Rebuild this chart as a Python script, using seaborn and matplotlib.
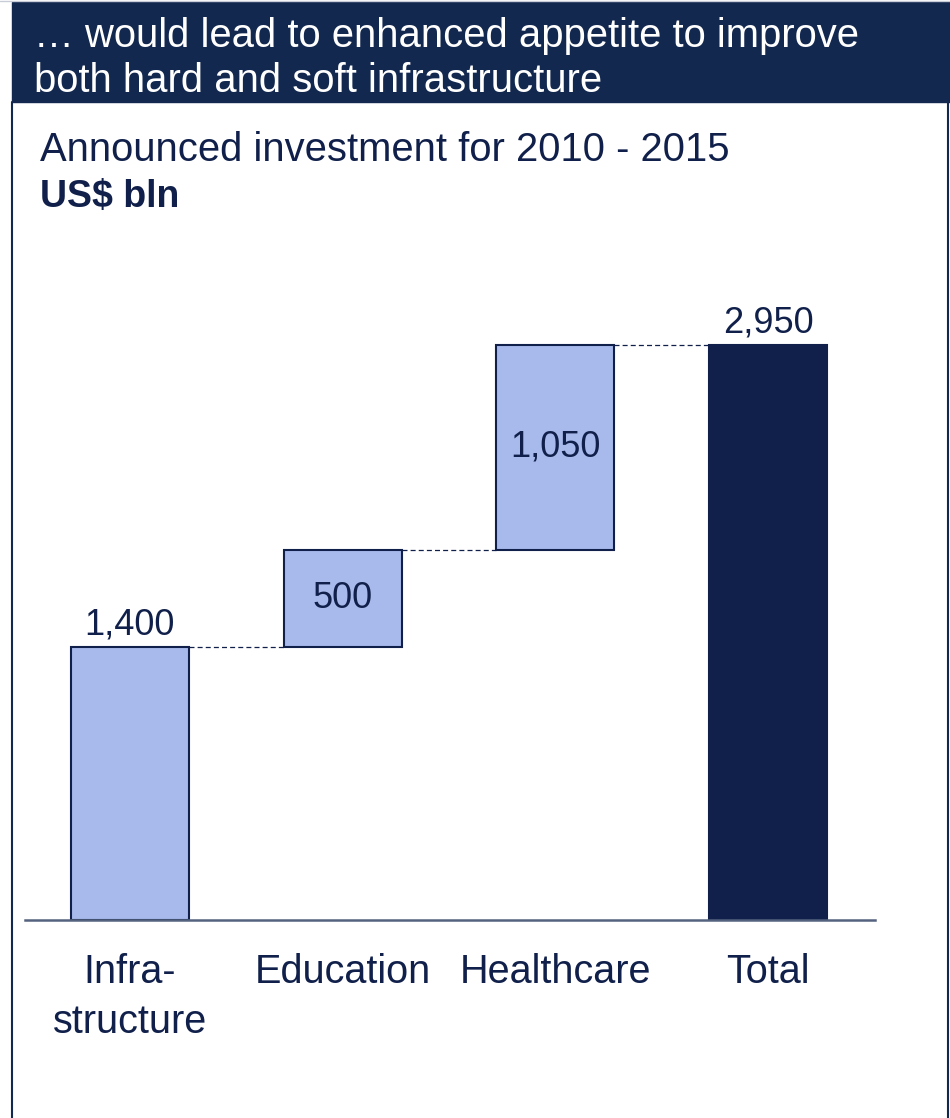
import matplotlib
matplotlib.use("Agg")
import matplotlib.pyplot as plt
from matplotlib.patches import Rectangle
from matplotlib.lines import Line2D
import seaborn as sns

# Announced investment 2010-2015, US$ bln
categories = ["Infra-\nstructure", "Education", "Healthcare", "Total"]
values = [1400, 500, 1050, 2950]
is_total = [False, False, False, True]
value_labels = ["1,400", "500", "1,050", "2,950"]

NAVY = "#10204A"
HEADER = "#13284F"
LIGHT = "#A8B9EB"
FONT = "Liberation Sans"

sns.set_theme(style="white")
plt.rcParams["font.family"] = [FONT, "DejaVu Sans"]

W, H = 950, 1118
fig = plt.figure(figsize=(W / 100, H / 100), dpi=100)


def fx(px):
    return px / W


def fy(py):
    return 1 - py / H


# floating bottoms for the waterfall steps
bottoms = []
running = 0
for v, tot in zip(values, is_total):
    if tot:
        bottoms.append(0)
    else:
        bottoms.append(running)
        running += v
tops = [b + v for b, v in zip(bottoms, values)]

ax = fig.add_axes([fx(25), fy(920), fx(875) - fx(25), fy(250) - fy(920)])
colors = [NAVY if t else LIGHT for t in is_total]
sns.barplot(x=categories, y=values, hue=categories, palette=colors, legend=False,
            width=0.555, edgecolor=NAVY, linewidth=1.5, ax=ax, saturation=1)
for patch, b in zip(ax.patches, bottoms):
    patch.set_y(b)

ax.set_xlim(-0.493, 3.502)
ax.set_ylim(0, 3437)

# dashed connectors between consecutive bar tops
hw = 0.555 / 2
for i in range(len(values) - 1):
    level = tops[i]
    ax.plot([i + hw, i + 1 - hw], [level, level], color=NAVY, lw=0.9,
            dashes=(4, 2.5), zorder=1)

# value labels
for i, (lab, b, v, tot) in enumerate(zip(value_labels, bottoms, values, is_total)):
    if tot or b == 0:
        ax.text(i, b + v + 22, lab, ha="center", va="bottom", fontsize=26, color=NAVY)
    else:
        ax.text(i, b + v / 2, lab, ha="center", va="center", fontsize=26, color=NAVY)

ax.set_yticks([])
ax.set_xlabel("")
ax.set_ylabel("")
for s in ["left", "right", "top"]:
    ax.spines[s].set_visible(False)
ax.spines["bottom"].set_color("#55627F")
ax.spines["bottom"].set_linewidth(1.8)
ax.tick_params(axis="x", length=0, pad=24, labelsize=28.5, labelcolor=NAVY)
for t in ax.get_xticklabels():
    t.set_linespacing(1.38)
    t.set_multialignment("center")

# header band
fig.add_artist(Rectangle((fx(12), fy(102)), 1 - fx(12), fy(2) - fy(102),
                         transform=fig.transFigure, color=HEADER, zorder=0))
fig.add_artist(Line2D([0, 1], [fy(1), fy(1)], transform=fig.transFigure,
                      color="#C8CCD6", lw=1))
# frame sides
fig.add_artist(Line2D([fx(12), fx(12)], [fy(102), 0], transform=fig.transFigure,
                      color=HEADER, lw=1.5))
fig.add_artist(Line2D([fx(948), fx(948)], [fy(102), 0], transform=fig.transFigure,
                      color=HEADER, lw=1.5))

fig.text(fx(34), fy(47), "\u2026 would lead to enhanced appetite to improve",
         fontsize=28.8, color="white", va="baseline", ha="left")
fig.text(fx(34), fy(92), "both hard and soft infrastructure",
         fontsize=28.8, color="white", va="baseline", ha="left")
fig.text(fx(40), fy(161), "Announced investment for 2010 - 2015",
         fontsize=28.8, color=NAVY, va="baseline", ha="left")
fig.text(fx(40), fy(207), "US$ bln", fontsize=27, color=NAVY, fontweight="bold",
         va="baseline", ha="left")

fig.savefig("out.png", dpi=100, facecolor="white")
